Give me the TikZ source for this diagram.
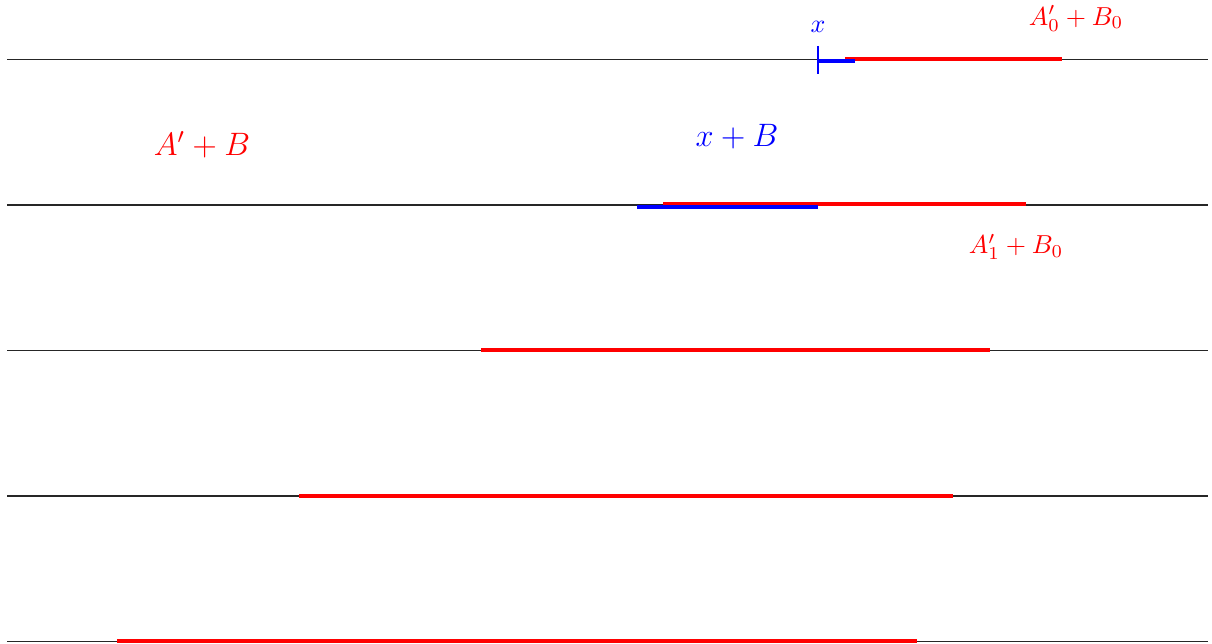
\documentclass[tikz,border=0pt]{standalone}
\usepackage{graphicx}
\begin{document}
\begin{tikzpicture}[x=0.4pt,y=-0.4pt,
  axis/.style={draw=black!85,line width=0.45pt},
  redseg/.style={draw=red,line width=1.6pt},
  blueseg/.style={draw=blue,line width=1.6pt},
  redlab/.style={text=red,inner sep=0pt},
  bluelab/.style={text=blue,inner sep=0pt}]
\useasboundingbox (0,0) rectangle (1212,644);
% axes
\foreach \y in {59.5,205,350.5,496,641.5}
  \draw[axis] (7,\y) -- (1208,\y);
% red segments
\draw[redseg] (845,59) -- (1062,59);
\draw[redseg] (663,204.5) -- (1026,204.5);
\draw[redseg] (481,350.5) -- (990,350.5);
\draw[redseg] (299,496) -- (953,496);
\draw[redseg] (117,641) -- (917,641);
% blue
\draw[blueseg] (818,61.5) -- (855,61.5);
\draw[blue,line width=0.5pt] (818,46) -- (818,74);
\draw[blueseg] (637,207.5) -- (818,207.5);
% labels
\node[bluelab] (x) at (818,27) {\scalebox{1.04}{$x$}};
\node[redlab] (a0) at (1076,18.5) {\scalebox{1.04}{$A_0'+B_0$}};
\node[redlab] (ab) at (202,145) {\scalebox{1.08}{\large $A'+B$}};
\node[bluelab] (xb) at (737,137) {\scalebox{1.08}{\large $x+B$}};
\node[redlab] (a1) at (1016,247) {\scalebox{1.04}{$A_1'+B_0$}};
\end{tikzpicture}
\end{document}
